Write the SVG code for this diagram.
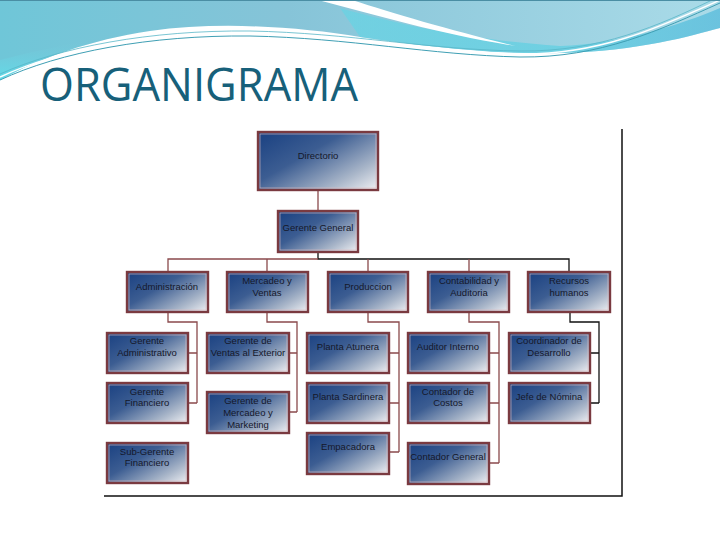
<svg xmlns="http://www.w3.org/2000/svg" width="720" height="540" viewBox="0 0 720 540">
<defs>
<linearGradient id="hdr" x1="0" y1="0" x2="1" y2="0">
<stop offset="0" stop-color="#6fc6d8"/>
<stop offset="0.4" stop-color="#86c4d8"/>
<stop offset="1" stop-color="#aadbe8"/>
</linearGradient>
<linearGradient id="hdrL" x1="0" y1="0" x2="0" y2="1">
<stop offset="0" stop-color="#7fbfd2" stop-opacity="0"/>
<stop offset="1" stop-color="#5fe0ec" stop-opacity="0.9"/>
</linearGradient>
<linearGradient id="band" x1="0" y1="0" x2="1" y2="0">
<stop offset="0" stop-color="#66d4e4"/>
<stop offset="0.6" stop-color="#5ccfe2"/>
<stop offset="1" stop-color="#4fb8da"/>
</linearGradient>
<linearGradient id="box" x1="0" y1="0.15" x2="1" y2="1">
<stop offset="0" stop-color="#1f4584"/>
<stop offset="0.35" stop-color="#3c5d92"/>
<stop offset="0.75" stop-color="#a9b6c9"/>
<stop offset="1" stop-color="#f2f2f5"/>
</linearGradient>
<style>
.bx{fill:url(#box);stroke:#7a3a40;stroke-width:2.4}
.in{fill:none;stroke:#dcbcc0;stroke-width:0.6}
.t{font-family:"Liberation Sans",Arial,sans-serif;font-size:9.5px;fill:#15182a;text-anchor:middle}
.cb{fill:none;stroke:#8a4a4c;stroke-width:1.3}
.ck{fill:none;stroke:#111;stroke-width:1.3}
</style>
</defs>
<rect width="720" height="540" fill="#fff"/>
<g id="header">
<path d="M0,0 H720 V28 C690,36 640,51 560,53 C500,55 430,47 360,37 C300,27 220,21 150,31 C90,40 40,58 0,80 Z" fill="url(#hdr)"/>
<path d="M0,80 C40,58 90,40 150,31 C110,35 60,45 0,60 Z" fill="url(#hdrL)"/>
<path d="M340,8 C420,30 480,40 560,46 C620,44 680,25 720,8 V28 C690,36 640,51 560,53 C500,55 430,47 360,37 Z" fill="url(#band)" opacity="0.7"/>
<path d="M318,0 C380,16 440,34 515,46 C450,30 395,14 352,0 Z" fill="#fff"/>
<path d="M0,80 C60,52 150,35 250,36 C350,38 430,55 520,57 C600,58 660,30 720,3" fill="none" stroke="#3f9fb4" stroke-width="1"/>
<path d="M0,77 C60,49 150,32 250,33 C350,35 430,52 520,54 C600,55 660,27 720,0" fill="none" stroke="#fff" stroke-width="1.5"/>
<path d="M0,74 C60,47 150,30 250,31 C350,33 430,50 520,51 C600,52 660,25 712,0" fill="none" stroke="#58b6c8" stroke-width="0.8"/>
<line x1="0" y1="0.5" x2="720" y2="0.5" stroke="#4a8ea4" stroke-width="1"/>
<text x="40" y="101" font-family="'Open Sans','Liberation Sans',sans-serif" font-size="46" fill="#17607a" textLength="318" lengthAdjust="spacingAndGlyphs">ORGANIGRAMA</text>
</g>
<g id="frame">
<path d="M622,129 V496 H104" fill="none" stroke="#111" stroke-width="1.5"/>
</g>
<g id="connectors">
<path class="cb" d="M318,190 V211"/>
<path class="ck" d="M318,252 V259 H569 V272"/>
<path class="cb" d="M318,259 H168 V272 M267,259 V272 M368,259 V272 M469,259 V272"/>
<path class="cb" d="M168,312 V322 H197 V403 M188,353 H197 M188,403 H197"/>
<path class="cb" d="M267,312 V322 H297 V412 M289,353 H297 M289,412 H297"/>
<path class="cb" d="M368,312 V322 H399 V452 M389,353 H399 M389,403 H399 M389,452 H399"/>
<path class="cb" d="M469,312 V322 H499 V463 M489,353 H499 M489,403 H499 M489,463 H499"/>
<path class="ck" d="M570,312 V322 H599 V403 M590,353 H599 M590,403 H599"/>
</g>
<g id="n-directorio"><rect class="bx" x="258" y="132" width="120" height="58"/><rect class="in" x="260" y="134" width="116" height="54"/><text class="t" x="318" y="159">Directorio</text></g>
<g id="n-gerente-general"><rect class="bx" x="278" y="211" width="80" height="41"/><rect class="in" x="280" y="213" width="76" height="37"/><text class="t" x="318" y="231">Gerente General</text></g>
<g id="n-administracion"><rect class="bx" x="127" y="272" width="81" height="40"/><rect class="in" x="129" y="274" width="77" height="36"/><text class="t" x="167" y="290">Administración</text></g>
<g id="n-mercadeo"><rect class="bx" x="227" y="272" width="81" height="40"/><rect class="in" x="229" y="274" width="77" height="36"/><text class="t" x="267" y="284">Mercadeo y</text><text class="t" x="267" y="296">Ventas</text></g>
<g id="n-produccion"><rect class="bx" x="328" y="272" width="80" height="40"/><rect class="in" x="330" y="274" width="76" height="36"/><text class="t" x="368" y="290">Produccion</text></g>
<g id="n-contabilidad"><rect class="bx" x="428" y="272" width="81" height="40"/><rect class="in" x="430" y="274" width="77" height="36"/><text class="t" x="469" y="284">Contabilidad y</text><text class="t" x="469" y="296">Auditoria</text></g>
<g id="n-recursos"><rect class="bx" x="528" y="272" width="82" height="40"/><rect class="in" x="530" y="274" width="78" height="36"/><text class="t" x="569" y="284">Recursos</text><text class="t" x="569" y="296">humanos</text></g>
<g id="n-ger-admin"><rect class="bx" x="107" y="333" width="81" height="40"/><rect class="in" x="109" y="335" width="77" height="36"/><text class="t" x="147" y="344">Gerente</text><text class="t" x="147" y="356">Administrativo</text></g>
<g id="n-ger-fin"><rect class="bx" x="107" y="383" width="81" height="40"/><rect class="in" x="109" y="385" width="77" height="36"/><text class="t" x="147" y="395">Gerente</text><text class="t" x="147" y="406">Financiero</text></g>
<g id="n-subger-fin"><rect class="bx" x="107" y="443" width="81" height="40"/><rect class="in" x="109" y="445" width="77" height="36"/><text class="t" x="147" y="455">Sub-Gerente</text><text class="t" x="147" y="466">Financiero</text></g>
<g id="n-ger-ventas"><rect class="bx" x="207" y="333" width="82" height="40"/><rect class="in" x="209" y="335" width="78" height="36"/><text class="t" x="248" y="344">Gerente de</text><text class="t" x="248" y="356">Ventas al Exterior</text></g>
<g id="n-ger-mercadeo"><rect class="bx" x="207" y="392" width="82" height="41"/><rect class="in" x="209" y="394" width="78" height="37"/><text class="t" x="248" y="404">Gerente de</text><text class="t" x="248" y="416">Mercadeo y</text><text class="t" x="248" y="428">Marketing</text></g>
<g id="n-atunera"><rect class="bx" x="307" y="333" width="82" height="40"/><rect class="in" x="309" y="335" width="78" height="36"/><text class="t" x="348" y="350">Planta Atunera</text></g>
<g id="n-sardinera"><rect class="bx" x="307" y="383" width="82" height="40"/><rect class="in" x="309" y="385" width="78" height="36"/><text class="t" x="348" y="400">Planta Sardinera</text></g>
<g id="n-empacadora"><rect class="bx" x="307" y="433" width="82" height="41"/><rect class="in" x="309" y="435" width="78" height="37"/><text class="t" x="348" y="450">Empacadora</text></g>
<g id="n-auditor"><rect class="bx" x="408" y="333" width="81" height="40"/><rect class="in" x="410" y="335" width="77" height="36"/><text class="t" x="448" y="350">Auditor Interno</text></g>
<g id="n-contador-costos"><rect class="bx" x="408" y="383" width="81" height="40"/><rect class="in" x="410" y="385" width="77" height="36"/><text class="t" x="448" y="395">Contador de</text><text class="t" x="448" y="406">Costos</text></g>
<g id="n-contador-general"><rect class="bx" x="408" y="443" width="81" height="41"/><rect class="in" x="410" y="445" width="77" height="37"/><text class="t" x="448" y="460">Contador General</text></g>
<g id="n-coordinador"><rect class="bx" x="509" y="333" width="81" height="40"/><rect class="in" x="511" y="335" width="77" height="36"/><text class="t" x="549" y="344">Coordinador de</text><text class="t" x="549" y="356">Desarrollo</text></g>
<g id="n-jefe-nomina"><rect class="bx" x="509" y="383" width="81" height="40"/><rect class="in" x="511" y="385" width="77" height="36"/><text class="t" x="549" y="400">Jefe de Nómina</text></g>
</svg>
